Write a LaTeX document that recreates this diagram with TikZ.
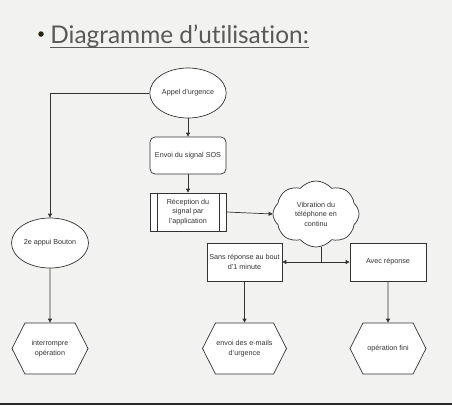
\documentclass[tikz,border=0pt]{standalone}
\usepackage{fontspec}
\setmainfont{Liberation Sans}
\newfontfamily\titlefont[Ligatures = {NoCommon, NoContextual}]{Lato}
\usetikzlibrary{arrows.meta}
\usetikzlibrary{shapes.geometric, shapes.symbols}
\usetikzlibrary{positioning}
\definecolor{bgcol}{HTML}{F2F2F0}
\definecolor{linecol}{HTML}{333333}
\definecolor{titlecol}{HTML}{595959}
\definecolor{dotcol}{HTML}{2A2318}

\begin{document}
\begin{tikzpicture}[x = 1pt, y = -1pt, line width = 0.7pt, draw = linecol,
    base/.style = {draw = linecol, fill = white, text = linecol, align = center,
        inner sep = 1pt, font = \fontsize{7.2}{9.5}\selectfont},
    oval/.style = {base, ellipse, minimum width = 76pt, minimum height = 50pt},
    boxnode/.style = {base, rectangle, minimum width = 76pt, minimum height = 38pt},
    roundbox/.style = {boxnode, rounded corners = 5pt},
    hexnode/.style = {base, signal, signal to = east and west, signal pointer angle = 126,
        minimum width = 76pt, minimum height = 51pt},
    cloudnode/.style = {base, cloud, cloud puffs = 8, cloud puff arc = 100, aspect = 1.3,
        minimum width = 86pt, minimum height = 66pt},
    link/.style = {draw = linecol, -{Triangle[length = 4pt, width = 4pt]}}]

    \def\Wpic{452}
    \def\Hpic{405}

    % background and bottom rule
    \fill[bgcol] (0,0) rectangle (\Wpic,\Hpic);
    \useasboundingbox (0,0) rectangle (\Wpic,\Hpic);
    \fill[black!85] (0,402.5) rectangle (\Wpic,\Hpic);

    % title
    \node (Bullet) at (41,34) [circle, fill = dotcol, inner sep = 0pt, minimum size = 5.5pt] {};
    \node (Title) at (50,43) [anchor = base west, inner sep = 0pt, text = titlecol,
        font = \titlefont\fontsize{24.4}{28}\selectfont] {Diagramme d’utilisation:};
    \draw[titlecol, line width = 0.9pt] ([yshift = -4pt]Title.base west) -- ([yshift = -4pt]Title.base east);

    % flow nodes
    \node (Appel)  at (188,93)    [oval] {Appel d'urgence};
    \node (Envoi)  at (188,155.5) [roundbox, minimum height = 37pt] {Envoi du signal SOS};
    \node (Recep)  at (188,212)   [boxnode] {Réception du\\signal par\\l'application};
    \node (Vib)    at (316,214)   [cloudnode] {Vibration du\\téléphone en\\continu};
    \node (Sans)   at (244.5,262) [boxnode, minimum width = 75pt] {Sans réponse au bout\\d'1 minute};
    \node (Avec)   at (388,262)   [boxnode] {Avec réponse};
    \node (Appui)  at (50,243)    [oval] {2e appui Bouton};
    \node (Interr) at (50,348.5)  [hexnode] {interrompre\\opération};
    \node (Mails)  at (244.5,348.5) [hexnode] {envoi des e-mails\\d'urgence};
    \node (Fini)   at (388,348.5) [hexnode] {opération fini};

    % side bars of the process box
    \foreach \SIDE/\SHIFT in {west/7.5, east/-7.5}
        \draw ([xshift = \SHIFT pt]Recep.north \SIDE) -- ([xshift = \SHIFT pt]Recep.south \SIDE);

    % connectors
    \draw[link] (Appel) -- (Envoi);
    \draw[link] (Envoi) -- (Recep);
    \draw[link] (Appel.west) -| (Appui.north);
    \draw[link] (Recep.east) -- (Vib.west);
    \coordinate (Split) at ([xshift = 5pt]Vib.south |- Sans.east);
    \draw (Split |- Vib.south) -- (Split);
    \draw[link] (Split) -- (Sans.east);
    \draw[link] (Split) -- (Avec.west);
    \draw[link] (Appui) -- (Interr);
    \draw[link] (Sans) -- (Mails);
    \draw[link] (Avec) -- (Fini);

\end{tikzpicture}
\end{document}
